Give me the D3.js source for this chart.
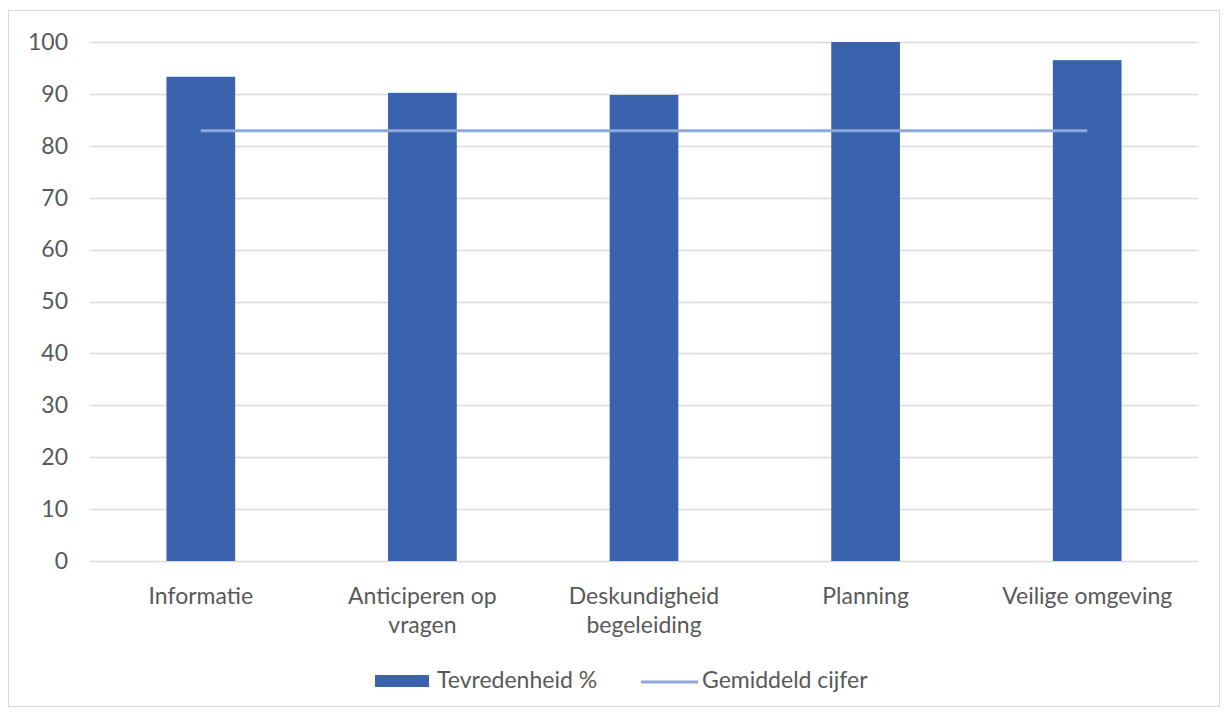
<!DOCTYPE html>
<html><head><meta charset="utf-8">
<script src="https://cdn.jsdelivr.net/npm/d3@7"></script>
<style>body{margin:0;background:#fff;} svg{display:block;font-family:Lato,"Open Sans",sans-serif;}</style>
</head><body>
<svg id="c" width="1226" height="715"></svg>
<script>
const categories = [["Informatie"], ["Anticiperen op", "vragen"], ["Deskundigheid", "begeleiding"], ["Planning"], ["Veilige omgeving"]];
const tevredenheid = [93.3, 90.2, 89.8, 100, 96.5];
const gemiddeld = [82.9, 82.9, 82.9, 82.9, 82.9];
const yTicks = [0, 10, 20, 30, 40, 50, 60, 70, 80, 90, 100];
const seriesNames = ["Tevredenheid %", "Gemiddeld cijfer"];

(function () {
const FS = "23px";
const svg = d3.select("#c");
svg.append("rect").attr("x", 8.5).attr("y", 10.5).attr("width", 1211).attr("height", 696)
  .attr("fill", "#fff").attr("stroke", "#d9d9d9");

const pLeft = 90, pRight = 1198, pTop = 42, pBottom = 561;
const keys = categories.map(d => d.join(" "));
const x = d3.scaleBand().domain(keys).range([pLeft, pRight]).paddingInner(0.69).paddingOuter(0.345);
const y = d3.scaleLinear().domain([0, 100]).range([pBottom, pTop]);

// grid
svg.append("g").selectAll("line").data(yTicks).join("line")
  .attr("x1", pLeft).attr("x2", pRight)
  .attr("y1", d => Math.round(y(d)) + 0.5).attr("y2", d => Math.round(y(d)) + 0.5)
  .attr("stroke", "#d9d9d9").attr("stroke-width", 1.3);

// y labels
const yAxis = svg.append("g").attr("transform", `translate(68,0)`)
  .call(d3.axisLeft(y).tickValues(yTicks).tickSize(0).tickPadding(0));
yAxis.select(".domain").remove();
yAxis.selectAll("text").attr("fill", "#595959").style("font-size", FS).style("font-family", "Lato, sans-serif");

// bars
svg.append("g").selectAll("rect").data(tevredenheid).join("rect")
  .attr("x", (d, i) => x(keys[i])).attr("width", x.bandwidth())
  .attr("y", d => y(d)).attr("height", d => y(0) - y(d))
  .attr("fill", "#3a63ad");

// line
const line = d3.line().x((d, i) => x(keys[i]) + x.bandwidth() / 2).y(d => y(d));
svg.append("path").datum(gemiddeld).attr("d", line)
  .attr("fill", "none").attr("stroke", "#8eaadb").attr("stroke-width", 3);

// x labels
const xl = svg.append("g");
categories.forEach((lines, i) => {
  const cx = x(keys[i]) + x.bandwidth() / 2;
  const t = xl.append("text").attr("x", cx).attr("y", 604)
    .attr("text-anchor", "middle").attr("fill", "#595959").style("font-size", FS);
  lines.forEach((l, j) => t.append("tspan").attr("x", cx).attr("dy", j === 0 ? 0 : 29).text(l));
});

// legend
const lg = svg.append("g");
lg.append("rect").attr("x", 375).attr("y", 675).attr("width", 54).attr("height", 12).attr("fill", "#3a63ad");
lg.append("text").attr("x", 437).attr("y", 688).attr("fill", "#595959").style("font-size", FS).text(seriesNames[0]);
lg.append("line").attr("x1", 641).attr("x2", 698).attr("y1", 682).attr("y2", 682).attr("stroke", "#8eaadb").attr("stroke-width", 3);
lg.append("text").attr("x", 702).attr("y", 688).attr("fill", "#595959").style("font-size", FS).text(seriesNames[1]);
})();
</script>
</body></html>
